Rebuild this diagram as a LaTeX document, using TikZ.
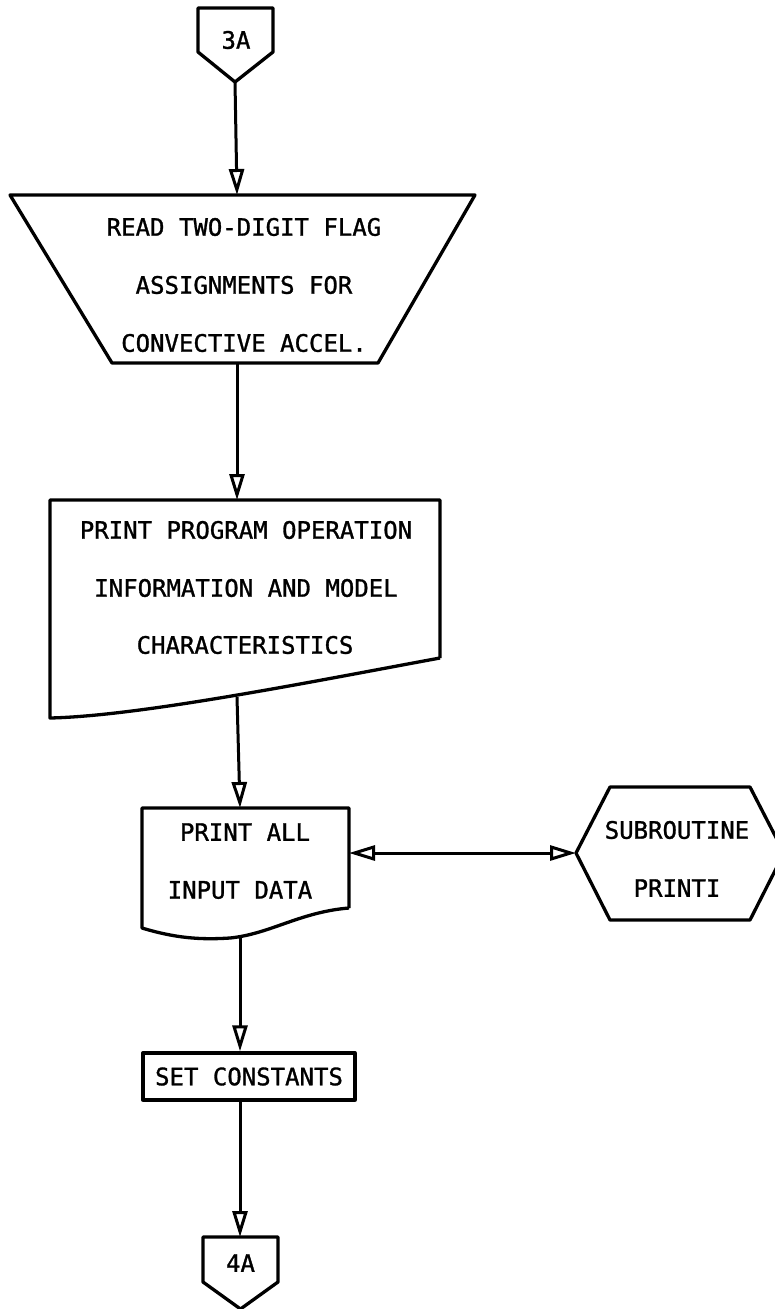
\documentclass[tikz,border=0pt]{standalone}
\usepackage{fontspec}
\newfontfamily\plotfont{DejaVu Sans Mono}[FakeBold=1.2]
\usetikzlibrary{arrows.meta}
\begin{document}
\begin{tikzpicture}[x=1pt,y=-1pt,line width=3pt,line join=round,
  txt/.style={font=\plotfont\fontsize{24}{24}\selectfont,inner sep=0pt},
  opentip/.tip={Triangle[open,length=26pt,width=15pt]},
  flow/.style={-opentip},
  twoway/.style={opentip-opentip},
  outline/.style={draw,line width=3.3pt}]
\useasboundingbox (0,0) rectangle (775,1309);

% off-page connector 3A
\draw[outline] (198,8) -- (273,8) -- (273,52) -- (235,82) -- (198,52) -- cycle;
\node[txt] (in3a) at (236,40) {3A};
\coordinate (in3a-tip) at (235,82);

% manual input: read flags
\draw[outline] (10,195) -- (475,195) -- (378,363) -- (112,363) -- cycle;
\node[txt] (rd1) at (244,227) {READ TWO-DIGIT FLAG};
\node[txt] (rd2) at (244,285) {ASSIGNMENTS FOR};
\node[txt] (rd3) at (244,343) {CONVECTIVE ACCEL.};
\coordinate (rd-top) at (237,195);
\coordinate (rd-bot) at (237,363);

% document: program information
\draw[outline] (440,658) -- (440,500) -- (50,500) -- (50,718)
  .. controls (140,716) and (310,682) .. (440,658);
\node[txt] (pp1) at (246,530) {PRINT PROGRAM OPERATION};
\node[txt] (pp2) at (246,588) {INFORMATION AND MODEL};
\node[txt] (pp3) at (245,645) {CHARACTERISTICS};
\coordinate (pp-top) at (237,500);
\coordinate (pp-bot) at (237,697);

% document: input data
\draw[outline] (349,908) -- (349,808) -- (142,808) -- (142,928)
  .. controls (175,938) and (200,940) .. (230,938)
  .. controls (270,934) and (300,912) .. (349,908);
\node[txt] (pa1) at (245,832) {PRINT ALL};
\node[txt] (pa2) at (240,890) {INPUT DATA};
\coordinate (pa-top) at (240,808);
\coordinate (pa-bot) at (240,937);
\coordinate (pa-right) at (349,853);

% subroutine call
\draw[outline] (610,787) -- (750,787) -- (784,853) -- (750,920)
  -- (610,920) -- (576,853) -- cycle;
\node[txt] (sub1) at (677,830) {SUBROUTINE};
\node[txt] (sub2) at (677,888) {PRINTI};
\coordinate (sub-left) at (576,853);

% process box
\node[txt,outline,minimum width=212pt,minimum height=47pt] (setc) at (249,1076.5) {SET CONSTANTS};
\coordinate (setc-top) at (setc.north -| pa-bot);
\coordinate (setc-bot) at (setc.south -| pa-bot);

% off-page connector 4A
\draw[outline] (203,1237) -- (278,1237) -- (278,1282) -- (240.5,1309) -- (203,1282) -- cycle;
\node[txt] (out4a) at (240.5,1263) {4A};
\coordinate (out4a-top) at (240,1237);

% connectors
\draw[flow] (in3a-tip) -- (rd-top);
\draw[flow] (rd-bot) -- (pp-top);
\draw[flow] (pp-bot) -- (pa-top);
\draw[twoway] (pa-right) -- (sub-left);
\draw[flow] (pa-bot) -- (setc-top);
\draw[flow] (setc-bot) -- (out4a-top);
\end{tikzpicture}
\end{document}
